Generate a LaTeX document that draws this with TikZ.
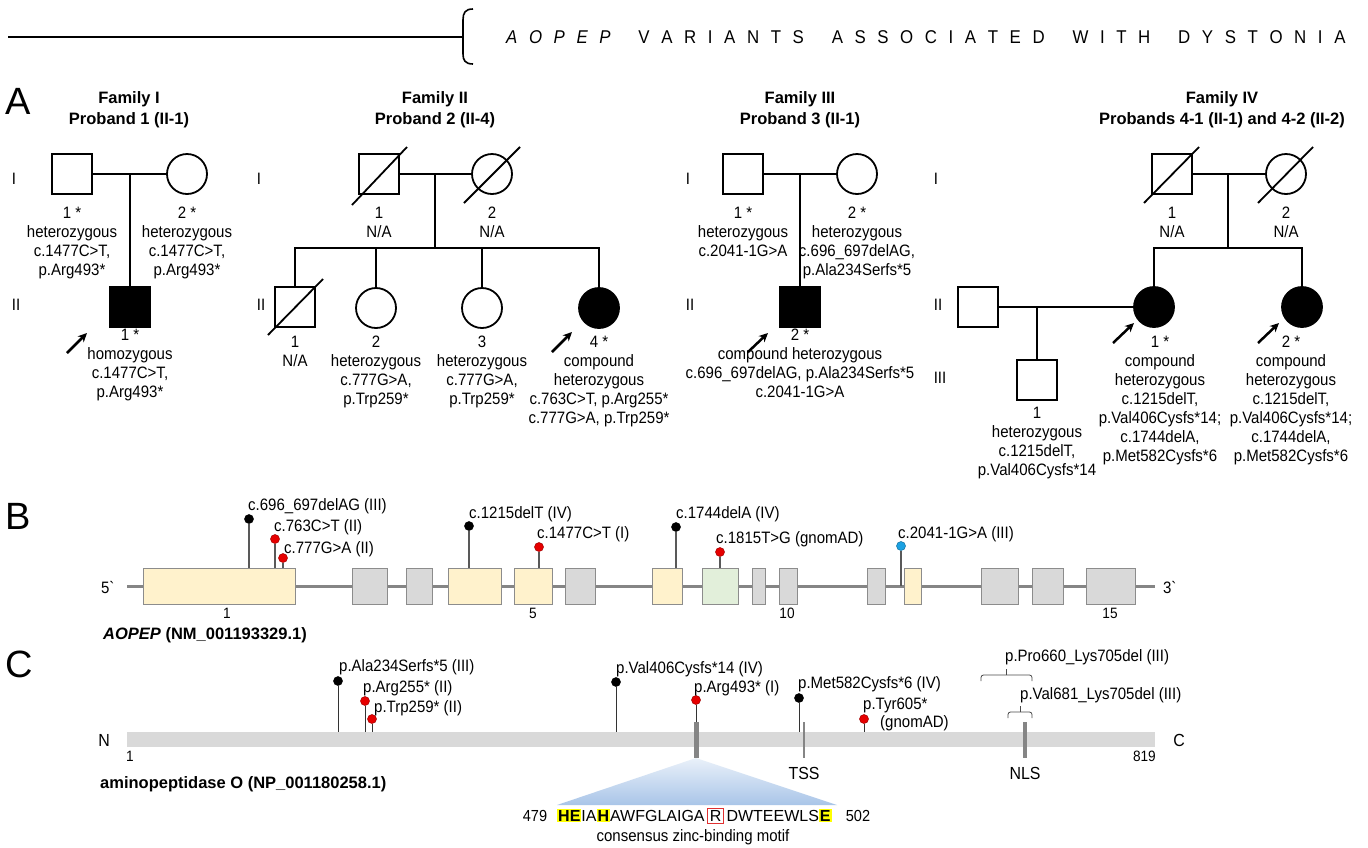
\documentclass[tikz,border=0pt]{standalone}
\usepackage{fontspec}
\setmainfont{Liberation Sans}
\newfontfamily\cf[FakeStretch=0.91]{Liberation Sans}
\usetikzlibrary{arrows.meta}
\definecolor{exY}{HTML}{FFF2CC}
\definecolor{exG}{HTML}{E2EFDA}
\definecolor{exN}{HTML}{D9D9D9}
\definecolor{exB}{HTML}{8C8C8C}
\definecolor{gl}{HTML}{858585}
\definecolor{lred}{HTML}{E60000}
\definecolor{lblue}{HTML}{1BA1E2}
\definecolor{pbar}{HTML}{D9D9D9}
\definecolor{tri}{HTML}{A9C5E8}
\definecolor{hly}{HTML}{FFFF00}
\definecolor{rboxc}{HTML}{E03030}
\def\sprd#1{\ifx#1\relax\else#1\kern11.6pt\expandafter\sprd\fi}
\newcommand\seqhl[1]{{\setlength\fboxsep{1pt}\colorbox{hly}{\textbf{#1}}}}
\newcommand\seqbox[1]{{\setlength\fboxsep{1.5pt}\setlength\fboxrule{1pt}\fcolorbox{rboxc}{white}{#1}}}
\begin{document}
\begin{tikzpicture}[x=1pt,y=-1pt,
  male/.style={draw,rectangle,line width=1.8pt,minimum size=40pt,inner sep=0},
  female/.style={draw,circle,line width=1.8pt,minimum size=40pt,inner sep=0},
  aff/.style={fill=black},
  pline/.style={line width=1.8pt},
  ped/.style={font=\cf\fontsize{16.5}{19}\selectfont,align=center,inner sep=0,anchor=north},
  ttl/.style={font=\bfseries\fontsize{16.5}{21}\selectfont,align=center,inner sep=0,anchor=north},
  gen/.style={font=\cf\fontsize{16.5}{18}\selectfont,inner sep=0},
  parrow/.style={line width=2.5pt,-{Stealth[length=9pt,width=8.5pt]}},
  panel/.style={font=\fontsize{38}{40}\selectfont,inner sep=0,anchor=west},
  exon/.style={draw=exB,line width=1pt,minimum height=36pt,inner sep=0},
  ball/.style={circle,inner sep=0,minimum size=9pt,draw=#1!70!black,line width=.5pt,fill=#1},
  stemB/.style={draw=black!65,line width=1.3pt},
  stemC/.style={draw=black!80,line width=0.9pt},
  lab/.style={font=\cf\fontsize{16.5}{18}\selectfont,inner sep=0,anchor=base west},
  capt/.style={font=\bfseries\fontsize{16.5}{20}\selectfont,inner sep=0,anchor=base west},
  num/.style={font=\cf\fontsize{15}{16}\selectfont,inner sep=0,anchor=base},
  bigt/.style={font=\cf\fontsize{17.5}{18}\selectfont,inner sep=0,anchor=base},
  tk/.style={draw=gl,line width=#1},
  brk/.style={draw=black!70,line width=0.8pt,rounded corners=2.5pt}
]
\useasboundingbox (0,0) rectangle (1368,847);
\fill[white] (0,0) rectangle (1368,847);

% ---------------- header
\coordinate (hl) at (8,37);
\coordinate (hr) at (463,37);
\draw[line width=2pt] (hl) -- (hr);
\draw[line width=1.6pt] (473,9) .. controls (465,9) and (463,13) .. (463,20) -- (463,54) .. controls (463,60) and (465,64) .. (473,64);
\node[anchor=west,inner sep=0,font=\cf\fontsize{18.5}{20}\selectfont] (title) at (506,37)
  {{\itshape\sprd AOPEP\relax}\sprd ~VARIANTS~ASSOCIATED~WITH~DYSTONIA\relax};

% ---------------- panel A
\node[panel] (pA) at (5,101) {A};

% Family I
\node[ttl] (t1) at (129,91) {Family I\\Proband 1 (II-1)};
\node[gen] (g1a) at (14,179) {I};
\node[gen] (g1b) at (16,305) {II};
\node[male] (f1a) at (72,174) {};
\node[female] (f1b) at (187,174) {};
\node[male,aff] (f1c) at (130,307) {};
\draw[pline] (f1a.east) -- (f1b.west);
\coordinate (f1m) at (130,174);
\draw[pline] (f1m) -- (f1c.north);
\node[ped] (f1aL) at (72,207) {1 *\\heterozygous\\c.1477C>T,\\p.Arg493*};
\node[ped] (f1bL) at (187,207) {2 *\\heterozygous\\c.1477C>T,\\p.Arg493*};
\node[ped] (f1cL) at (130,329) {1 *\\homozygous\\c.1477C>T,\\p.Arg493*};
\coordinate (a1s) at (67,353); \coordinate (a1e) at (87,333);
\draw[parrow] (a1s) -- (a1e);

% Family II
\node[ttl] (t2) at (435,91) {Family II\\Proband 2 (II-4)};
\node[gen] (g2a) at (259,179) {I};
\node[gen] (g2b) at (261,305) {II};
\node[male] (f2a) at (379,174) {};
\node[female] (f2b) at (492,174) {};
\draw[pline] (f2a) ++(-27,31) -- ++(55,-58);
\draw[pline] (f2b) ++(-28,29) -- ++(56,-56);
\draw[pline] (f2a.east) -- (f2b.west);
\coordinate (f2m) at (435,174);
\coordinate (f2j) at (435,248);
\draw[pline] (f2m) -- (f2j);
\node[male] (f2c) at (295,307) {};
\draw[pline] (f2c) ++(-27,28) -- ++(55,-56);
\node[female] (f2d) at (376,308) {};
\node[female] (f2e) at (482,308) {};
\node[female,aff] (f2f) at (599,308) {};
\draw[pline] (f2c.north) -- (f2c.north |- f2j) -- (f2f.north |- f2j) -- (f2f.north);
\draw[pline] (f2d.north) -- (f2d.north |- f2j);
\draw[pline] (f2e.north) -- (f2e.north |- f2j);
\node[ped] (f2aL) at (379,207) {1\\N/A};
\node[ped] (f2bL) at (492,207) {2\\N/A};
\node[ped] (f2cL) at (295,336) {1\\N/A};
\node[ped] (f2dL) at (376,336) {2\\heterozygous\\c.777G>A,\\p.Trp259*};
\node[ped] (f2eL) at (482,336) {3\\heterozygous\\c.777G>A,\\p.Trp259*};
\node[ped] (f2fL) at (599,336) {4 *\\compound\\heterozygous\\c.763C>T, p.Arg255*\\c.777G>A, p.Trp259*};
\coordinate (a2s) at (552,352); \coordinate (a2e) at (572,332);
\draw[parrow] (a2s) -- (a2e);

% Family III
\node[ttl] (t3) at (800,91) {Family III\\Proband 3 (II-1)};
\node[gen] (g3a) at (688,179) {I};
\node[gen] (g3b) at (690,305) {II};
\node[male] (f3a) at (743,174) {};
\node[female] (f3b) at (857,174) {};
\node[male,aff] (f3c) at (800,307) {};
\draw[pline] (f3a.east) -- (f3b.west);
\coordinate (f3m) at (800,174);
\draw[pline] (f3m) -- (f3c.north);
\node[ped] (f3aL) at (743,207) {1 *\\heterozygous\\c.2041-1G>A};
\node[ped] (f3bL) at (857,207) {2 *\\heterozygous\\c.696\_697delAG,\\p.Ala234Serfs*5};
\node[ped] (f3cL) at (800,329) {2 *\\compound heterozygous\\c.696\_697delAG, p.Ala234Serfs*5\\c.2041-1G>A};
\coordinate (a3s) at (748,352); \coordinate (a3e) at (768,333);
\draw[parrow] (a3s) -- (a3e);

% Family IV
\node[ttl] (t4) at (1222,91) {Family IV\\Probands 4-1 (II-1) and 4-2 (II-2)};
\node[gen] (g4a) at (936,179) {I};
\node[gen] (g4b) at (938,305) {II};
\node[gen] (g4c) at (940,378) {III};
\node[male] (f4a) at (1172,174) {};
\node[female] (f4b) at (1286,174) {};
\draw[pline] (f4a) ++(-28,29) -- ++(55,-56);
\draw[pline] (f4b) ++(-28,29) -- ++(55,-56);
\draw[pline] (f4a.east) -- (f4b.west);
\coordinate (f4m) at (1228,174);
\coordinate (f4j) at (1228,248);
\draw[pline] (f4m) -- (f4j);
\node[female,aff] (f4c) at (1154,307) {};
\node[female,aff] (f4d) at (1302,307) {};
\draw[pline] (f4c.north) -- (f4c.north |- f4j) -- (f4d.north |- f4j) -- (f4d.north);
\node[male] (f4s) at (978,307) {};
\draw[pline] (f4s.east) -- (f4c.west);
\node[male] (f4e) at (1037,380) {};
\coordinate (f4n) at (1037,307);
\draw[pline] (f4n) -- (f4e.north);
\node[ped] (f4aL) at (1172,207) {1\\N/A};
\node[ped] (f4bL) at (1286,207) {2\\N/A};
\node[ped] (f4cL) at (1160,336) {1 *\\compound\\heterozygous\\c.1215delT,\\p.Val406Cysfs*14;\\c.1744delA,\\p.Met582Cysfs*6};
\node[ped] (f4dL) at (1291,336) {2 *\\compound\\heterozygous\\c.1215delT,\\p.Val406Cysfs*14;\\c.1744delA,\\p.Met582Cysfs*6};
\node[ped] (f4eL) at (1037,407) {1\\heterozygous\\c.1215delT,\\p.Val406Cysfs*14};
\coordinate (a4s) at (1113,343); \coordinate (a4e) at (1134,323);
\draw[parrow] (a4s) -- (a4e);
\coordinate (a5s) at (1258,343); \coordinate (a5e) at (1279,323);
\draw[parrow] (a5s) -- (a5e);

% ---------------- panel B
\node[panel] (pB) at (5,516) {B};
\coordinate (g5) at (127,586);
\coordinate (g3) at (1155,586);
\draw[gl,line width=3pt] (g5) -- (g3);
\node[font=\cf\fontsize{16.5}{18}\selectfont,inner sep=0] (five) at (108,587) {5\textasciigrave};
\node[font=\cf\fontsize{16.5}{18}\selectfont,inner sep=0] (three) at (1170,587) {3\textasciigrave};
\node[exon,fill=exY,minimum width=152pt] (e1) at (219,586) {};
\node[exon,fill=exN,minimum width=35pt] (e2) at (369.5,586) {};
\node[exon,fill=exN,minimum width=26pt] (e3) at (419,586) {};
\node[exon,fill=exY,minimum width=53pt] (e4) at (474.5,586) {};
\node[exon,fill=exY,minimum width=38pt] (e5) at (533,586) {};
\node[exon,fill=exN,minimum width=30pt] (e6) at (580,586) {};
\node[exon,fill=exY,minimum width=30pt] (e7) at (667,586) {};
\node[exon,fill=exG,minimum width=36pt] (e8) at (720,586) {};
\node[exon,fill=exN,minimum width=13pt] (e9) at (758.5,586) {};
\node[exon,fill=exN,minimum width=18pt] (e10) at (788,586) {};
\node[exon,fill=exN,minimum width=18pt] (e11) at (876,586) {};
\node[exon,fill=exY,minimum width=17pt] (e12) at (912.5,586) {};
\node[exon,fill=exN,minimum width=37pt] (e13) at (999.5,586) {};
\node[exon,fill=exN,minimum width=31pt] (e14) at (1047.5,586) {};
\node[exon,fill=exN,minimum width=49pt] (e15) at (1110.5,586) {};
\node[num] (n1) at (227,618.5) {1};
\node[num] (n5) at (533,618.5) {5};
\node[num] (n10) at (787,618.5) {10};
\node[num] (n15) at (1110,618.5) {15};
\node[capt] (gname) at (103,639) {\textit{AOPEP} (NM\_001193329.1)};
% lollipops B
\node[ball=black] (b1) at (249,519) {};
\node[ball=lred] (b2) at (275,539) {};
\node[ball=lred] (b3) at (283,558) {};
\node[ball=black] (b4) at (469,526) {};
\node[ball=lred] (b5) at (539,547) {};
\node[ball=black] (b6) at (676,527) {};
\node[ball=lred] (b7) at (720,552) {};
\node[ball=lblue] (b8) at (901,546) {};
\draw[stemB] (b1.south) -- (b1 |- e1.north);
\draw[stemB] (b2.south) -- (b2 |- e1.north);
\draw[stemB] (b3.south) -- (b3 |- e1.north);
\draw[stemB] (b4.south) -- (b4 |- e4.north);
\draw[stemB] (b5.south) -- (b5 |- e5.north);
\draw[stemB] (b6.south) -- (b6 |- e7.north);
\draw[stemB] (b7.south) -- (b7 |- e8.north);
\draw[stemB] (b8.south) -- (b8 |- g5);
\node[lab] (lb1) at (248,510) {c.696\_697delAG (III)};
\node[lab] (lb2) at (274,531) {c.763C>T (II)};
\node[lab] (lb3) at (284,553) {c.777G>A (II)};
\node[lab] (lb4) at (469,518) {c.1215delT (IV)};
\node[lab] (lb5) at (537,538) {c.1477C>T (I)};
\node[lab] (lb6) at (676,518) {c.1744delA (IV)};
\node[lab] (lb7) at (716,543) {c.1815T>G (gnomAD)};
\node[lab] (lb8) at (898,538) {c.2041-1G>A (III)};

% ---------------- panel C
\node[panel] (pC) at (5,664) {C};
\shade[top color=tri!25,bottom color=tri] (696,758) -- (837,805) -- (557,805) -- cycle;
\node[fill=pbar,minimum width=1028pt,minimum height=15pt,inner sep=0] (pb) at (641,739.5) {};
\node[bigt] (Nt) at (104,746) {N};
\node[bigt] (Ct) at (1179,746) {C};
\node[num] (p1) at (130,761) {1};
\node[num,anchor=base east] (p819) at (1156,761) {819};
\coordinate (m493) at (696,722);
\coordinate (m493b) at (696,758);
\draw[tk=5pt] (m493) -- (m493b);
\coordinate (tss) at (804,722);
\coordinate (tssb) at (804,758);
\draw[tk=2pt] (tss) -- (tssb);
\coordinate (nls) at (1025,722);
\coordinate (nlsb) at (1025,758);
\draw[tk=3.5pt] (nls) -- (nlsb);
\node[bigt] (tssL) at (804,779) {TSS};
\node[bigt] (nlsL) at (1025,779) {NLS};
\node[capt] (pname) at (100,788) {aminopeptidase O (NP\_001180258.1)};
% lollipops C
\node[ball=black] (c1) at (338,681) {};
\node[ball=lred] (c2) at (365,701) {};
\node[ball=lred] (c3) at (372,719) {};
\node[ball=black] (c4) at (616,682) {};
\node[ball=lred] (c5) at (696,700) {};
\node[ball=black] (c6) at (799,698) {};
\node[ball=lred] (c7) at (864,719) {};
\draw[stemC] (c1.south) -- (c1 |- pb.north);
\draw[stemC] (c2.south) -- (c2 |- pb.north);
\draw[stemC] (c3.south) -- (c3 |- pb.north);
\draw[stemC] (c4.south) -- (c4 |- pb.north);
\draw[stemC] (c5.south) -- (m493);
\draw[stemC] (c6.south) -- (c6 |- pb.north);
\draw[stemC] (c7.south) -- (c7 |- pb.north);
\node[lab] (lc1) at (339,671) {p.Ala234Serfs*5 (III)};
\node[lab] (lc2) at (363,692) {p.Arg255* (II)};
\node[lab] (lc3) at (374,712) {p.Trp259* (II)};
\node[lab] (lc4) at (616,673) {p.Val406Cysfs*14 (IV)};
\node[lab] (lc5) at (694,692) {p.Arg493* (I)};
\node[lab] (lc6) at (798,688) {p.Met582Cysfs*6 (IV)};
\node[lab] (lc7) at (863,709) {p.Tyr605*};
\node[lab] (lc7b) at (880,727) {(gnomAD)};
% deletions
\coordinate (d1a) at (981,681); \coordinate (d1b) at (1032,681);
\coordinate (d1m) at (1006,675); \coordinate (d1t) at (1006,669);
\draw[brk] (d1a) |- (d1m) -| (d1b);
\draw[brk] (d1m) -- (d1t);
\node[lab] (ld1) at (1005,661) {p.Pro660\_Lys705del (III)};
\coordinate (d2a) at (1008,718); \coordinate (d2b) at (1032,718);
\coordinate (d2m) at (1020,712); \coordinate (d2t) at (1020,706);
\draw[brk] (d2a) |- (d2m) -| (d2b);
\draw[brk] (d2m) -- (d2t);
\node[lab] (ld2) at (1020,699) {p.Val681\_Lys705del (III)};
% zinc motif
\node[num,font=\cf\fontsize{16}{18}\selectfont] (s479) at (535,821) {479};
\node[inner sep=0,anchor=base west,font=\fontsize{16}{18}\selectfont] (seq) at (557,821)
  {\seqhl{HE}IA\seqhl{H}AWFGLAIGA\,\seqbox{R}\,DWTEEWLS\seqhl{E}};
\node[num,font=\cf\fontsize{16}{18}\selectfont] (s502) at (858,821) {502};
\node[num,font=\cf\fontsize{16.5}{18}\selectfont] (motif) at (693,841.5) {consensus zinc-binding motif};
\end{tikzpicture}
\end{document}
